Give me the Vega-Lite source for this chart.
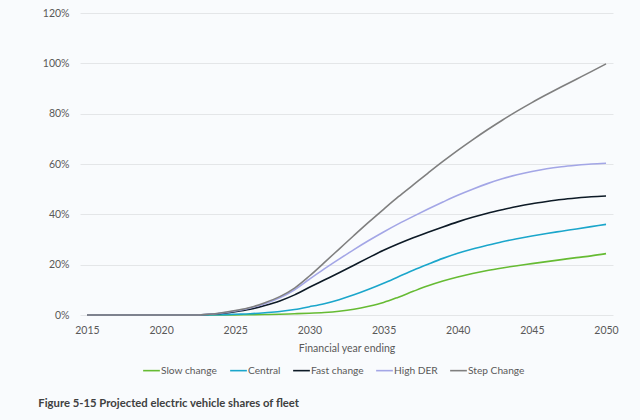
{
  "$schema": "https://vega.github.io/schema/vega-lite/v6.json",
  "width": 533,
  "height": 302,
  "autosize": {"type": "none"},
  "padding": {"left": 80, "top": 13, "right": 27, "bottom": 105},
  "background": "#f9fbfd",
  "title": {
    "text": "Figure 5-15 Projected electric vehicle shares of fleet",
    "orient": "bottom",
    "anchor": "start",
    "dx": -4,
    "offset": 22,
    "font": "Lato",
    "fontSize": 11.3,
    "fontWeight": "bold",
    "color": "#404040"
  },
  "config": {
    "view": {"stroke": null},
    "font": "Lato"
  },
  "data": {
    "values": [
      {"year": 2015, "Slow change": 0, "Central": 0, "Fast change": 0, "High DER": 0, "Step Change": 0},
      {"year": 2016, "Slow change": 0, "Central": 0, "Fast change": 0, "High DER": 0, "Step Change": 0},
      {"year": 2017, "Slow change": 0, "Central": 0, "Fast change": 0, "High DER": 0, "Step Change": 0},
      {"year": 2018, "Slow change": 0, "Central": 0, "Fast change": 0, "High DER": 0, "Step Change": 0},
      {"year": 2019, "Slow change": 0, "Central": 0, "Fast change": 0, "High DER": 0, "Step Change": 0},
      {"year": 2020, "Slow change": 0, "Central": 0, "Fast change": 0, "High DER": 0, "Step Change": 0},
      {"year": 2021, "Slow change": 0, "Central": 0, "Fast change": 0, "High DER": 0, "Step Change": 0},
      {"year": 2022, "Slow change": 0, "Central": 0, "Fast change": 0, "High DER": 0, "Step Change": 0},
      {"year": 2023, "Slow change": 0, "Central": 0.02, "Fast change": 0.2, "High DER": 0.2, "Step Change": 0.2},
      {"year": 2024, "Slow change": 0, "Central": 0.1, "Fast change": 0.6, "High DER": 0.7, "Step Change": 0.8},
      {"year": 2025, "Slow change": 0.05, "Central": 0.3, "Fast change": 1.3, "High DER": 1.6, "Step Change": 1.8},
      {"year": 2026, "Slow change": 0.1, "Central": 0.5, "Fast change": 2.3, "High DER": 2.8, "Step Change": 3.0},
      {"year": 2027, "Slow change": 0.2, "Central": 0.9, "Fast change": 3.8, "High DER": 4.5, "Step Change": 4.9},
      {"year": 2028, "Slow change": 0.3, "Central": 1.4, "Fast change": 5.6, "High DER": 6.8, "Step Change": 7.3},
      {"year": 2029, "Slow change": 0.5, "Central": 2.2, "Fast change": 8.0, "High DER": 10.0, "Step Change": 10.7},
      {"year": 2030, "Slow change": 0.7, "Central": 3.3, "Fast change": 11.0, "High DER": 14.2, "Step Change": 15.5},
      {"year": 2031, "Slow change": 1.0, "Central": 4.5, "Fast change": 13.9, "High DER": 18.3, "Step Change": 20.8},
      {"year": 2032, "Slow change": 1.5, "Central": 6.1, "Fast change": 16.8, "High DER": 22.2, "Step Change": 26.2},
      {"year": 2033, "Slow change": 2.3, "Central": 8.0, "Fast change": 19.8, "High DER": 26.0, "Step Change": 31.6},
      {"year": 2034, "Slow change": 3.5, "Central": 10.2, "Fast change": 22.8, "High DER": 29.6, "Step Change": 36.9},
      {"year": 2035, "Slow change": 5.0, "Central": 12.6, "Fast change": 25.7, "High DER": 33.0, "Step Change": 42.0},
      {"year": 2036, "Slow change": 7.1, "Central": 15.2, "Fast change": 28.3, "High DER": 36.2, "Step Change": 47.0},
      {"year": 2037, "Slow change": 9.4, "Central": 17.8, "Fast change": 30.7, "High DER": 39.2, "Step Change": 51.7},
      {"year": 2038, "Slow change": 11.6, "Central": 20.2, "Fast change": 32.9, "High DER": 42.1, "Step Change": 56.4},
      {"year": 2039, "Slow change": 13.5, "Central": 22.5, "Fast change": 35.0, "High DER": 44.9, "Step Change": 61.0},
      {"year": 2040, "Slow change": 15.1, "Central": 24.5, "Fast change": 37.0, "High DER": 47.6, "Step Change": 65.4},
      {"year": 2041, "Slow change": 16.5, "Central": 26.2, "Fast change": 38.8, "High DER": 50.0, "Step Change": 69.6},
      {"year": 2042, "Slow change": 17.7, "Central": 27.7, "Fast change": 40.4, "High DER": 52.2, "Step Change": 73.6},
      {"year": 2043, "Slow change": 18.7, "Central": 29.1, "Fast change": 41.8, "High DER": 54.1, "Step Change": 77.4},
      {"year": 2044, "Slow change": 19.6, "Central": 30.3, "Fast change": 43.1, "High DER": 55.7, "Step Change": 81.0},
      {"year": 2045, "Slow change": 20.4, "Central": 31.4, "Fast change": 44.2, "High DER": 57.0, "Step Change": 84.4},
      {"year": 2046, "Slow change": 21.2, "Central": 32.4, "Fast change": 45.1, "High DER": 58.1, "Step Change": 87.6},
      {"year": 2047, "Slow change": 22.0, "Central": 33.3, "Fast change": 45.9, "High DER": 58.9, "Step Change": 90.7},
      {"year": 2048, "Slow change": 22.8, "Central": 34.2, "Fast change": 46.5, "High DER": 59.5, "Step Change": 93.7},
      {"year": 2049, "Slow change": 23.5, "Central": 35.1, "Fast change": 47.0, "High DER": 60.0, "Step Change": 96.7},
      {"year": 2050, "Slow change": 24.4, "Central": 36.0, "Fast change": 47.3, "High DER": 60.3, "Step Change": 99.8}
    ]
  },
  "transform": [
    {"fold": ["Slow change", "Central", "Fast change", "High DER", "Step Change"], "as": ["scenario", "share"]}
  ],
  "mark": {"type": "line", "interpolate": "monotone", "strokeWidth": 1.6},
  "encoding": {
    "x": {
      "field": "year",
      "type": "quantitative",
      "scale": {"domain": [2014.53, 2050.47], "nice": false, "zero": false},
      "axis": {
        "values": [2015, 2020, 2025, 2030, 2035, 2040, 2045, 2050],
        "format": "d",
        "grid": false,
        "ticks": false,
        "domain": false,
        "labelPadding": 10,
        "labelFont": "Lato",
        "labelFontSize": 10.5,
        "labelColor": "#595959",
        "title": "Financial year ending",
        "titleFont": "Lato",
        "titleFontSize": 10.5,
        "titleFontWeight": "normal",
        "titleColor": "#595959",
        "titlePadding": 8
      }
    },
    "y": {
      "field": "share",
      "type": "quantitative",
      "scale": {"domain": [0, 120], "nice": false},
      "axis": {
        "values": [0, 20, 40, 60, 80, 100, 120],
        "labelExpr": "datum.value + '%'",
        "grid": true,
        "gridColor": "#e4e6e8",
        "gridWidth": 1,
        "ticks": false,
        "domain": false,
        "labelPadding": 11,
        "labelFont": "Lato",
        "labelFontSize": 10.5,
        "labelColor": "#595959",
        "title": null
      }
    },
    "color": {
      "field": "scenario",
      "type": "nominal",
      "sort": ["Slow change", "Central", "Fast change", "High DER", "Step Change"],
      "scale": {
        "domain": ["Slow change", "Central", "Fast change", "High DER", "Step Change"],
        "range": ["#66bb33", "#1ba6cb", "#0d1a26", "#a3a6e6", "#7f7f7f"]
      },
      "legend": {
        "orient": "none",
        "legendX": 62,
        "legendY": 348,
        "direction": "horizontal",
        "title": null,
        "symbolType": "stroke",
        "symbolSize": 280,
        "symbolStrokeWidth": 1.6,
        "labelFont": "Lato",
        "labelFontSize": 10.2,
        "labelColor": "#595959",
        "labelOffset": 0,
        "columnPadding": 8
      }
    }
  }
}
